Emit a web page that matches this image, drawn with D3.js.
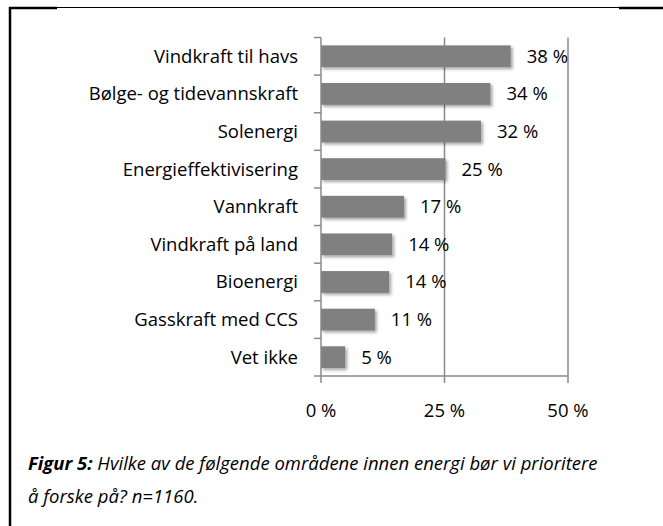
<!DOCTYPE html>
<html>
<head>
<meta charset="utf-8">
<script src="https://cdn.jsdelivr.net/npm/d3@7"></script>
<style>
  html, body { margin: 0; padding: 0; background: #fff; }
  svg { display: block; }
  text { font-family: "Open Sans", sans-serif; fill: #000; font-variant-ligatures: none; }
</style>
</head>
<body>
<svg id="chart" width="663" height="526"></svg>
<script>
const categories = ["Vindkraft til havs", "Bølge- og tidevannskraft", "Solenergi", "Energieffektivisering",
  "Vannkraft", "Vindkraft på land", "Bioenergi", "Gasskraft med CCS", "Vet ikke"];
const values = [38.4, 34.3, 32.4, 25.2, 16.8, 14.4, 13.8, 10.9, 4.9];
const valueLabels = ["38 %", "34 %", "32 %", "25 %", "17 %", "14 %", "14 %", "11 %", "5 %"];
const tickValues = [0, 25, 50];
const tickLabels = ["0 %", "25 %", "50 %"];
const captionBold = "Figur 5:";
const captionLine1 = " Hvilke av de følgende områdene innen energi bør vi prioritere";
const captionLine2 = "å forske på? n=1160.";

const svg = d3.select("#chart");

// frame
svg.append("line").attr("x1", 9).attr("x2", 663).attr("y1", 7.5).attr("y2", 7.5)
  .attr("stroke", "#000").attr("stroke-width", 1);
svg.append("line").attr("x1", 9).attr("x2", 57).attr("y1", 8).attr("y2", 8)
  .attr("stroke", "#000").attr("stroke-width", 2.5);
svg.append("line").attr("x1", 619).attr("x2", 663).attr("y1", 8).attr("y2", 8)
  .attr("stroke", "#000").attr("stroke-width", 2.5);
svg.append("line").attr("x1", 10).attr("x2", 10).attr("y1", 7).attr("y2", 526)
  .attr("stroke", "#000").attr("stroke-width", 2.5);

const defs = svg.append("defs");
const f = defs.append("filter").attr("id", "shadow")
  .attr("x", "-10%").attr("y", "-20%").attr("width", "130%").attr("height", "160%");
f.append("feDropShadow").attr("dx", 2).attr("dy", 2).attr("stdDeviation", 1.6)
  .attr("flood-color", "#000").attr("flood-opacity", 0.35);

const x = d3.scaleLinear().domain([0, 50]).range([321, 568]);
const y = d3.scaleBand().domain(categories).range([37.5, 376]).paddingInner(0.42).paddingOuter(0.21);

const gridColor = "#8a8a8a";
const fs = 18.5;

// gridlines
svg.append("g").selectAll("line").data(tickValues.slice(1)).join("line")
  .attr("x1", d => x(d)).attr("x2", d => x(d))
  .attr("y1", 37.5).attr("y2", 376)
  .attr("stroke", gridColor).attr("stroke-width", 1.5);

// bars
svg.append("g").selectAll("rect").data(values).join("rect")
  .attr("x", x(0))
  .attr("y", (d, i) => y(categories[i]))
  .attr("width", d => x(d) - x(0))
  .attr("height", y.bandwidth())
  .attr("fill", "#808080")
  .attr("filter", "url(#shadow)");

// y axis
const yAxisBand = d3.scaleBand().domain(categories).range([37.5, 376]);
const yAxis = svg.append("g");
yAxis.append("line").attr("x1", 321).attr("x2", 321).attr("y1", 37.5).attr("y2", 376)
  .attr("stroke", gridColor).attr("stroke-width", 1.5);
yAxis.selectAll("line.tick").data(categories).join("line").attr("class", "tick")
  .attr("x1", 314).attr("x2", 321)
  .attr("y1", d => yAxisBand(d)).attr("y2", d => yAxisBand(d))
  .attr("stroke", gridColor).attr("stroke-width", 1.5);
yAxis.selectAll("text").data(categories).join("text")
  .attr("x", 298).attr("y", d => y(d) + y.bandwidth() / 2)
  .attr("dy", "0.35em").attr("text-anchor", "end")
  .attr("font-size", fs).text(d => d);

// x axis
const xAxis = svg.append("g");
xAxis.append("line").attr("x1", 314).attr("x2", 568).attr("y1", 376).attr("y2", 376)
  .attr("stroke", gridColor).attr("stroke-width", 1.5);
xAxis.selectAll("line.tick").data(tickValues).join("line").attr("class", "tick")
  .attr("x1", d => x(d)).attr("x2", d => x(d)).attr("y1", 376).attr("y2", 383)
  .attr("stroke", gridColor).attr("stroke-width", 1.5);
xAxis.selectAll("text").data(tickValues).join("text")
  .attr("x", d => x(d)).attr("y", 417).attr("text-anchor", "middle")
  .attr("font-size", fs).text((d, i) => tickLabels[i]);

// value labels
svg.append("g").selectAll("text").data(values).join("text")
  .attr("x", d => x(d) + 16)
  .attr("y", (d, i) => y(categories[i]) + y.bandwidth() / 2)
  .attr("dy", "0.35em").attr("font-size", fs)
  .text((d, i) => valueLabels[i]);

// caption
const cap = svg.append("text").attr("x", 28).attr("y", 470)
  .attr("font-size", 18.5).attr("font-style", "italic");
cap.append("tspan").attr("font-weight", "bold").text(captionBold);
cap.append("tspan").text(captionLine1);
svg.append("text").attr("x", 28).attr("y", 503).attr("font-size", 18.5)
  .attr("font-style", "italic").text(captionLine2);
</script>
</body>
</html>
